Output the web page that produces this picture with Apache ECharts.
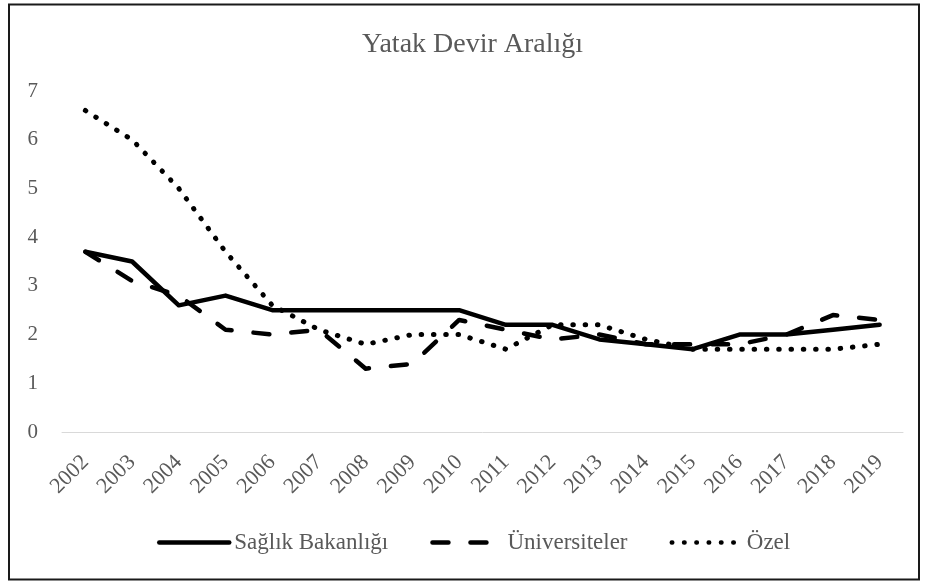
<!DOCTYPE html>
<html>
<head>
<meta charset="utf-8">
<title>Yatak Devir Aralığı</title>
<script src="https://cdn.jsdelivr.net/npm/echarts@6/dist/echarts.min.js"></script>
<style>
  html, body { margin: 0; padding: 0; background: #fff; }
  #chart { width: 926px; height: 583px; }
</style>
</head>
<body>
<div id="chart"></div>
<script>
// 年份（X轴）
var years = ['2002', '2003', '2004', '2005', '2006', '2007', '2008', '2009', '2010',
  '2011', '2012', '2013', '2014', '2015', '2016', '2017', '2018', '2019'];
// 三个系列的数据
var saglik = [3.7, 3.5, 2.6, 2.8, 2.5, 2.5, 2.5, 2.5, 2.5, 2.2, 2.2, 1.9, 1.8, 1.7, 2.0, 2.0, 2.1, 2.2];
var universite = [3.7, 3.1, 2.8, 2.1, 2.0, 2.1, 1.3, 1.4, 2.3, 2.1, 1.9, 2.0, 1.8, 1.8, 1.8, 2.0, 2.4, 2.3];
var ozel = [6.6, 6.0, 5.0, 3.7, 2.6, 2.1, 1.8, 2.0, 2.0, 1.7, 2.2, 2.2, 1.9, 1.7, 1.7, 1.7, 1.7, 1.8];
// Y轴刻度
var yTicks = { min: 0, max: 7, step: 1 };

var serif = '"Liberation Serif", "DejaVu Serif", serif';
var gray = '#595959';

setLine('chart', {
  backgroundColor: '#fff',
  animation: false,
  // 外边框
  graphic: [{
    type: 'rect',
    shape: { x: 9, y: 4.5, width: 910, height: 575 },
    style: { fill: 'none', stroke: '#1a1a1a', lineWidth: 2 },
    silent: true
  }],
  title: {
    text: 'Yatak Devir Aralığı',
    left: 357,
    top: 26,
    textStyle: { fontFamily: serif, fontSize: 28, fontWeight: 'normal', color: gray }
  },
  // 图注：只画线，不画圆点
  legend: {
    left: 152,
    top: 526,
    itemWidth: 70,
    itemHeight: 14,
    itemGap: 42,
    itemStyle: { opacity: 0 },
    lineStyle: { width: 4.5 },
    textStyle: { fontFamily: serif, fontSize: 23, color: gray },
    data: ['Sağlık Bakanlığı', 'Üniversiteler', 'Özel']
  },
  grid: {
    left: 62,
    right: 23,
    top: 91,
    bottom: 151
  },
  xAxis: {
    type: 'category',
    boundaryGap: true,
    data: years,
    axisTick: { show: false },
    axisLine: { lineStyle: { color: '#d9d9d9', width: 1 } },
    axisLabel: {
      rotate: 45,
      margin: 27,
      fontFamily: serif,
      fontSize: 22,
      color: gray
    }
  },
  yAxis: {
    type: 'value',
    min: yTicks.min,
    max: yTicks.max,
    interval: yTicks.step,
    splitLine: { show: false },
    axisLine: { show: false },
    axisTick: { show: false },
    axisLabel: {
      margin: 24,
      fontFamily: serif,
      fontSize: 21,
      color: gray
    }
  },
  series: [{
      name: 'Sağlık Bakanlığı',
      type: 'line',
      symbol: 'none',
      data: saglik,
      itemStyle: { color: '#000' },
      lineStyle: { color: '#000', width: 4.5, cap: 'round', join: 'round' }
    },
    {
      name: 'Üniversiteler',
      type: 'line',
      symbol: 'none',
      data: universite,
      itemStyle: { color: '#000' },
      lineStyle: { color: '#000', width: 4.5, type: [16, 22], cap: 'round', join: 'round' }
    },
    {
      name: 'Özel',
      type: 'line',
      symbol: 'none',
      data: ozel,
      itemStyle: { color: '#000' },
      lineStyle: { color: '#000', width: 5, type: [0.5, 11.8], cap: 'round', join: 'round' }
    }
  ]
});

/*
功能：折线图函数
参数：1.ident(图表容器id)；2.option（图表配置项）
*/
function setLine(ident, option) {
  var myChart = echarts.init(document.getElementById(ident));
  myChart.setOption(option);
}
</script>
</body>
</html>
